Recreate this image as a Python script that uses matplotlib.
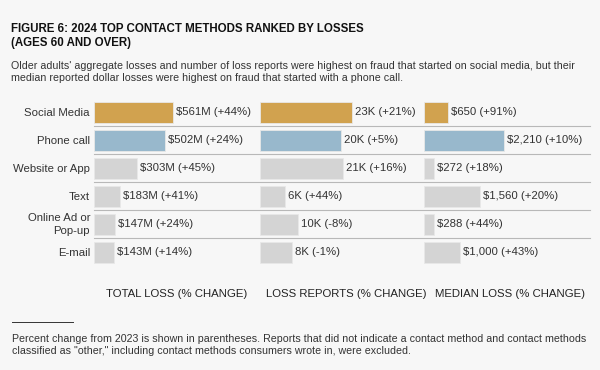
import matplotlib.pyplot as plt
from matplotlib.patches import Rectangle
from matplotlib.lines import Line2D

plt.rcParams['font.family'] = ['Liberation Sans', 'DejaVu Sans']

# Данные
methods = ["Social Media", "Phone call", "Website or App", "Text", "Online Ad or\nPop-up", "E-mail"]
total_loss = [561, 502, 303, 183, 147, 143]          # $M
total_labels = ["$561M (+44%)", "$502M (+24%)", "$303M (+45%)", "$183M (+41%)", "$147M (+24%)", "$143M (+14%)"]
reports = [23.1, 20.3, 20.8, 6.2, 9.6, 8.0]           # тыс.
report_labels = ["23K (+21%)", "20K (+5%)", "21K (+16%)", "6K (+44%)", "10K (-8%)", "8K (-1%)"]
median_loss = [650, 2210, 272, 1560, 288, 1000]     # $
median_labels = ["$650 (+91%)", "$2,210 (+10%)", "$272 (+18%)", "$1,560 (+20%)", "$288 (+44%)", "$1,000 (+43%)"]
headers = ["TOTAL LOSS (% CHANGE)", "LOSS REPORTS (% CHANGE)", "MEDIAN LOSS (% CHANGE)"]

W, H = 600, 370
bg = "#f7f7f7"
gold = "#d1a24f"
blue = "#98b8cc"
grey = "#d4d4d4"
colors = [gold, blue, grey, grey, grey, grey]

fig = plt.figure(figsize=(6, 3.7), dpi=100)
fig.patch.set_facecolor(bg)

def px(x, y):
    return x / W, 1 - y / H

fig.text(*px(11, 23), "FIGURE 6: 2024 TOP CONTACT METHODS RANKED BY LOSSES\n(AGES 60 AND OVER)",
         fontsize=8.3, fontweight='bold', va='top', ha='left', linespacing=1.25, color="#111111")
fig.text(*px(11, 61), "Older adults' aggregate losses and number of loss reports were highest on fraud that started on social media, but their\n"
         "median reported dollar losses were highest on fraud that started with a phone call.",
         fontsize=7.7, va='top', ha='left', linespacing=1.3, color="#333333")

# панели: (x начала, пикселей на единицу)
row_top, row_h = 98, 28
panels = [(94, 79 / 561, total_loss, total_labels),
          (260, 92 / 23.1, reports, report_labels),
          (424, 80 / 2210, median_loss, median_labels)]

ax = fig.add_axes([0, 0, 1, 1])
ax.set_xlim(0, W)
ax.set_ylim(H, 0)
ax.axis('off')

for i, m in enumerate(methods):
    yc = row_top + row_h * i + row_h / 2
    ax.text(90, yc + 0.5, m, ha='right', va='center', fontsize=8.2, color="#333333", linespacing=1.3)
    for x0, sc, vals, labs in panels:
        w = vals[i] * sc
        ax.add_patch(Rectangle((x0, yc - 10.5), w, 21, facecolor=colors[i],
                               edgecolor="#e8e8e8", linewidth=0.6))
        ax.text(x0 + w + 3, yc, labs[i], ha='left', va='center', fontsize=8.2, color="#333333")
    if i < len(methods) - 1:
        ys = row_top + row_h * (i + 1)
        ax.add_line(Line2D([94, 590], [ys, ys], color="#b8b8b8", linewidth=0.8))

for x, h in zip([177, 346, 510], headers):
    ax.text(x, 294, h, ha='center', va='center', fontsize=8.2, color="#222222")

ax.add_line(Line2D([12, 73], [322, 322], color="#333333", linewidth=0.7))
fig.text(*px(12, 334), "Percent change from 2023 is shown in parentheses. Reports that did not indicate a contact method and contact methods\n"
         "classified as \"other,\" including contact methods consumers wrote in, were excluded.",
         fontsize=7.7, va='top', ha='left', linespacing=1.3, color="#333333")

fig.savefig("out.png", dpi=100, facecolor=bg)
